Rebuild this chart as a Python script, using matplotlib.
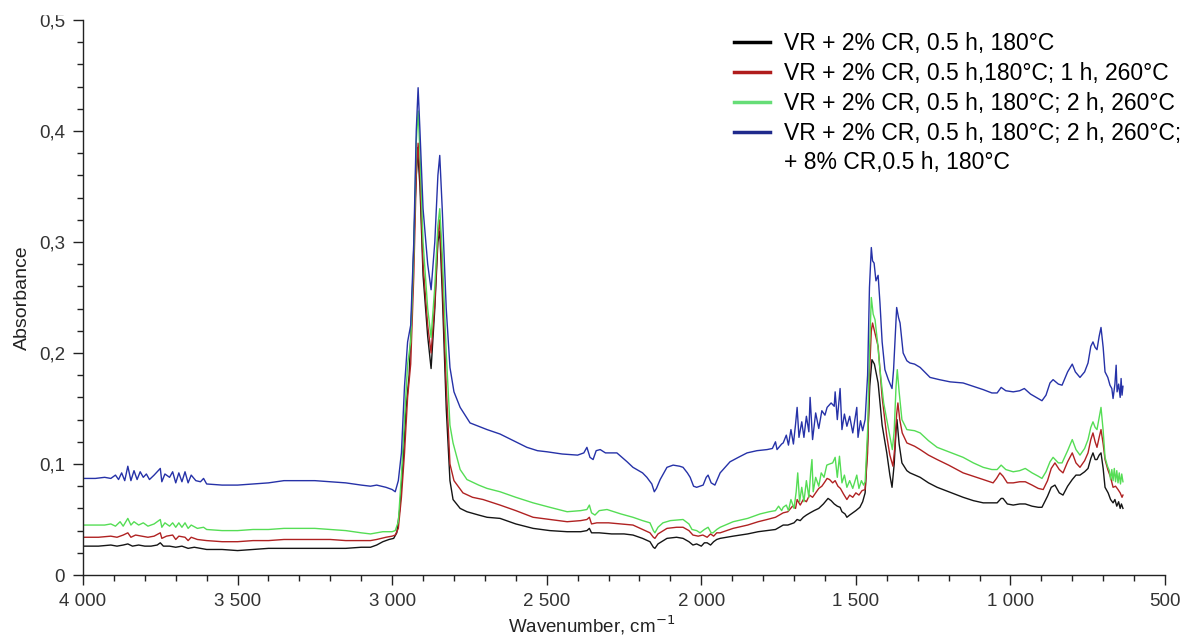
import matplotlib
matplotlib.use("Agg")
import matplotlib.pyplot as plt
from matplotlib.lines import Line2D
from matplotlib.patches import Rectangle
from matplotlib.ticker import MultipleLocator, FuncFormatter

# ---- data ----
labels = [
    "VR + 2% CR, 0.5 h, 180°C",
    "VR + 2% CR, 0.5 h,180°C; 1 h, 260°C",
    "VR + 2% CR, 0.5 h, 180°C; 2 h, 260°C",
    "VR + 2% CR, 0.5 h, 180°C; 2 h, 260°C;",
]
label_extra = "+ 8% CR,0.5 h, 180°C"

wn_black = [4000, 3950, 3910, 3890, 3870, 3855, 3840, 3820, 3800, 3780, 3760, 3750, 3740, 3720, 3700,
            3680, 3660, 3640, 3600, 3550, 3500, 3450, 3400, 3350, 3300, 3250, 3200, 3150, 3100, 3070,
            3050, 3030, 3010, 2995, 2985, 2975, 2965, 2955, 2945, 2935, 2925, 2918, 2910, 2900, 2885,
            2874, 2862, 2852, 2846, 2838, 2825, 2813, 2803, 2780, 2758, 2720, 2693, 2651, 2600, 2544,
            2490, 2434, 2390, 2370, 2362, 2355, 2330, 2290, 2250, 2221, 2190, 2166, 2155, 2150, 2140,
            2111, 2080, 2059, 2040, 2027, 2015, 2000, 1990, 1981, 1970, 1960, 1950, 1939, 1897, 1850,
            1816, 1787, 1760, 1735, 1720, 1700, 1690, 1680, 1670, 1660, 1648, 1635, 1620, 1605, 1590,
            1580, 1570, 1560, 1551, 1545, 1535, 1529, 1520, 1510, 1500, 1487, 1478, 1470, 1462, 1455,
            1448, 1440, 1428, 1415, 1400, 1390, 1383, 1376, 1370, 1367, 1360, 1351, 1335, 1325, 1292,
            1265, 1237, 1200, 1153, 1120, 1088, 1060, 1043, 1030, 1024, 1010, 991, 970, 952, 930,
            910, 898, 880, 868, 856, 842, 830, 815, 800, 788, 775, 760, 749, 740, 733,
            726, 720, 713, 707, 700, 694, 684, 676, 668, 662, 656, 650, 645, 641, 636]
ab_black = [0.026, 0.026, 0.027, 0.026, 0.027, 0.028, 0.026, 0.027, 0.026, 0.026, 0.027, 0.029, 0.026, 0.026, 0.025,
            0.026, 0.024, 0.025, 0.023, 0.023, 0.022, 0.023, 0.024, 0.024, 0.024, 0.024, 0.024, 0.024, 0.025, 0.025,
            0.027, 0.030, 0.032, 0.033, 0.038, 0.060, 0.100, 0.150, 0.180, 0.250, 0.340, 0.385, 0.350, 0.270, 0.215,
            0.186, 0.240, 0.300, 0.310, 0.255, 0.150, 0.085, 0.068, 0.060, 0.057, 0.054, 0.052, 0.051, 0.046, 0.042,
            0.040, 0.039, 0.039, 0.040, 0.042, 0.038, 0.038, 0.037, 0.037, 0.036, 0.033, 0.030, 0.025, 0.024, 0.028,
            0.033, 0.034, 0.033, 0.030, 0.027, 0.028, 0.026, 0.029, 0.029, 0.027, 0.030, 0.032, 0.033, 0.035, 0.037,
            0.039, 0.040, 0.041, 0.045, 0.045, 0.047, 0.050, 0.049, 0.052, 0.054, 0.056, 0.058, 0.060, 0.064, 0.069,
            0.067, 0.064, 0.062, 0.061, 0.057, 0.055, 0.052, 0.054, 0.056, 0.058, 0.061, 0.066, 0.074, 0.120, 0.170,
            0.194, 0.190, 0.173, 0.135, 0.110, 0.090, 0.079, 0.100, 0.130, 0.140, 0.118, 0.101, 0.094, 0.092, 0.088,
            0.083, 0.079, 0.075, 0.070, 0.067, 0.065, 0.065, 0.065, 0.069, 0.069, 0.064, 0.063, 0.064, 0.064, 0.062,
            0.061, 0.061, 0.071, 0.079, 0.081, 0.074, 0.072, 0.080, 0.086, 0.090, 0.090, 0.093, 0.096, 0.105, 0.110,
            0.104, 0.104, 0.108, 0.110, 0.096, 0.079, 0.074, 0.068, 0.065, 0.068, 0.062, 0.066, 0.060, 0.064, 0.060]

wn_red = [4000, 3950, 3910, 3890, 3870, 3855, 3845, 3830, 3810, 3790, 3770, 3750, 3745, 3730, 3710,
          3700, 3690, 3670, 3660, 3650, 3630, 3600, 3550, 3500, 3450, 3400, 3350, 3300, 3250, 3200,
          3150, 3100, 3070, 3050, 3020, 3000, 2990, 2980, 2970, 2960, 2950, 2940, 2930, 2922, 2916,
          2910, 2900, 2885, 2874, 2862, 2852, 2846, 2838, 2825, 2813, 2800, 2771, 2740, 2706, 2651,
          2600, 2544, 2490, 2434, 2390, 2370, 2362, 2355, 2338, 2300, 2260, 2221, 2190, 2166, 2155,
          2150, 2140, 2111, 2080, 2059, 2040, 2027, 2010, 1995, 1981, 1970, 1960, 1950, 1939, 1897,
          1850, 1816, 1787, 1760, 1735, 1720, 1705, 1695, 1690, 1680, 1670, 1660, 1650, 1640, 1630,
          1620, 1610, 1600, 1593, 1585, 1575, 1567, 1558, 1550, 1540, 1529, 1520, 1510, 1500, 1490,
          1480, 1470, 1462, 1456, 1450, 1446, 1440, 1428, 1415, 1400, 1390, 1380, 1374, 1368, 1364,
          1358, 1350, 1335, 1310, 1292, 1265, 1237, 1200, 1153, 1120, 1088, 1056, 1045, 1034, 1024,
          1010, 991, 970, 952, 930, 910, 894, 880, 868, 856, 842, 830, 815, 800, 788,
          775, 760, 749, 740, 733, 726, 720, 713, 707, 700, 694, 685, 676, 668, 660,
          652, 645, 639, 636]
ab_red = [0.034, 0.034, 0.035, 0.034, 0.036, 0.038, 0.034, 0.036, 0.035, 0.034, 0.035, 0.038, 0.033, 0.035, 0.036,
          0.032, 0.035, 0.034, 0.031, 0.034, 0.032, 0.031, 0.030, 0.030, 0.031, 0.031, 0.032, 0.032, 0.032, 0.032,
          0.031, 0.031, 0.031, 0.032, 0.034, 0.035, 0.036, 0.042, 0.070, 0.110, 0.160, 0.190, 0.270, 0.360, 0.389,
          0.360, 0.280, 0.225, 0.200, 0.245, 0.305, 0.320, 0.270, 0.170, 0.100, 0.085, 0.074, 0.070, 0.068, 0.063,
          0.058, 0.052, 0.050, 0.048, 0.049, 0.050, 0.052, 0.046, 0.047, 0.047, 0.046, 0.045, 0.041, 0.038, 0.034,
          0.033, 0.037, 0.042, 0.043, 0.043, 0.040, 0.036, 0.035, 0.036, 0.034, 0.037, 0.035, 0.038, 0.038, 0.042,
          0.045, 0.048, 0.050, 0.052, 0.056, 0.057, 0.062, 0.060, 0.068, 0.063, 0.068, 0.066, 0.072, 0.070, 0.074,
          0.078, 0.080, 0.084, 0.087, 0.086, 0.083, 0.085, 0.080, 0.078, 0.073, 0.068, 0.072, 0.070, 0.074, 0.072,
          0.076, 0.077, 0.110, 0.180, 0.220, 0.227, 0.220, 0.206, 0.160, 0.125, 0.108, 0.098, 0.115, 0.145, 0.155,
          0.140, 0.128, 0.119, 0.116, 0.113, 0.108, 0.104, 0.099, 0.092, 0.089, 0.086, 0.083, 0.087, 0.092, 0.089,
          0.083, 0.083, 0.084, 0.084, 0.081, 0.078, 0.077, 0.085, 0.096, 0.101, 0.095, 0.092, 0.102, 0.110, 0.101,
          0.097, 0.103, 0.110, 0.122, 0.128, 0.120, 0.115, 0.124, 0.131, 0.118, 0.104, 0.095, 0.088, 0.079, 0.080,
          0.077, 0.074, 0.070, 0.072]

wn_green = [4000, 3960, 3930, 3910, 3895, 3880, 3870, 3855, 3845, 3835, 3820, 3805, 3790, 3770, 3750,
            3745, 3735, 3720, 3710, 3700, 3690, 3680, 3670, 3660, 3650, 3630, 3610, 3600, 3550, 3500,
            3450, 3400, 3350, 3300, 3250, 3200, 3150, 3100, 3070, 3050, 3030, 3000, 2990, 2980, 2970,
            2960, 2950, 2940, 2930, 2922, 2916, 2910, 2900, 2885, 2874, 2862, 2852, 2846, 2838, 2825,
            2813, 2803, 2780, 2758, 2720, 2693, 2651, 2600, 2544, 2490, 2434, 2390, 2370, 2362, 2355,
            2344, 2330, 2305, 2260, 2221, 2190, 2166, 2155, 2150, 2140, 2124, 2100, 2059, 2040, 2030,
            2015, 2004, 1990, 1978, 1968, 1962, 1950, 1939, 1897, 1850, 1810, 1780, 1760, 1750, 1740,
            1735, 1725, 1718, 1710, 1700, 1693, 1688, 1682, 1675, 1668, 1660, 1652, 1646, 1642, 1638,
            1630, 1620, 1612, 1603, 1594, 1585, 1575, 1567, 1560, 1553, 1545, 1537, 1529, 1520, 1510,
            1500, 1497, 1490, 1482, 1475, 1470, 1462, 1456, 1450, 1444, 1438, 1430, 1422, 1410, 1400,
            1390, 1382, 1376, 1370, 1366, 1360, 1351, 1335, 1310, 1292, 1265, 1237, 1200, 1153, 1120,
            1088, 1060, 1043, 1030, 1015, 991, 970, 952, 930, 910, 898, 885, 872, 862, 845,
            833, 815, 800, 788, 775, 760, 749, 740, 733, 726, 720, 713, 707, 700, 694,
            686, 680, 676, 672, 668, 664, 660, 656, 652, 648, 644, 640, 636]
ab_green = [0.045, 0.045, 0.045, 0.046, 0.044, 0.048, 0.044, 0.051, 0.045, 0.048, 0.045, 0.047, 0.044, 0.046, 0.050,
            0.043, 0.047, 0.044, 0.047, 0.043, 0.047, 0.043, 0.047, 0.042, 0.045, 0.042, 0.043, 0.041, 0.040, 0.040,
            0.041, 0.041, 0.042, 0.042, 0.042, 0.041, 0.040, 0.038, 0.037, 0.038, 0.039, 0.039, 0.040, 0.048, 0.090,
            0.140, 0.190, 0.210, 0.290, 0.390, 0.418, 0.380, 0.300, 0.240, 0.214, 0.260, 0.315, 0.330, 0.290, 0.200,
            0.135, 0.119, 0.095, 0.086, 0.081, 0.078, 0.075, 0.070, 0.065, 0.061, 0.057, 0.058, 0.059, 0.063, 0.056,
            0.054, 0.058, 0.059, 0.055, 0.052, 0.049, 0.047, 0.040, 0.038, 0.043, 0.047, 0.049, 0.050, 0.046, 0.041,
            0.040, 0.038, 0.041, 0.043, 0.038, 0.038, 0.041, 0.043, 0.048, 0.051, 0.055, 0.057, 0.058, 0.062, 0.058,
            0.061, 0.063, 0.058, 0.068, 0.060, 0.075, 0.092, 0.066, 0.079, 0.066, 0.085, 0.070, 0.093, 0.104, 0.075,
            0.088, 0.080, 0.092, 0.088, 0.099, 0.100, 0.101, 0.106, 0.088, 0.107, 0.083, 0.090, 0.079, 0.085, 0.078,
            0.087, 0.090, 0.078, 0.085, 0.081, 0.084, 0.130, 0.200, 0.250, 0.235, 0.230, 0.210, 0.185, 0.155, 0.140,
            0.125, 0.113, 0.130, 0.170, 0.185, 0.165, 0.140, 0.131, 0.130, 0.128, 0.121, 0.115, 0.111, 0.106, 0.101,
            0.097, 0.095, 0.095, 0.099, 0.095, 0.093, 0.094, 0.096, 0.092, 0.089, 0.087, 0.093, 0.102, 0.106, 0.101,
            0.101, 0.112, 0.122, 0.113, 0.108, 0.114, 0.122, 0.133, 0.138, 0.133, 0.131, 0.142, 0.151, 0.130, 0.106,
            0.098, 0.094, 0.086, 0.095, 0.085, 0.096, 0.084, 0.094, 0.083, 0.092, 0.082, 0.091, 0.084]

wn_blue = [4000, 3960, 3930, 3910, 3895, 3885, 3875, 3865, 3855, 3845, 3835, 3825, 3815, 3805, 3795,
           3785, 3770, 3750, 3745, 3735, 3720, 3710, 3700, 3690, 3680, 3670, 3660, 3650, 3635, 3620,
           3610, 3600, 3550, 3500, 3450, 3400, 3350, 3300, 3250, 3200, 3150, 3100, 3070, 3050, 3020,
           3000, 2990, 2980, 2970, 2960, 2950, 2940, 2930, 2922, 2916, 2910, 2900, 2885, 2874, 2862,
           2852, 2846, 2838, 2825, 2813, 2800, 2780, 2748, 2720, 2693, 2651, 2600, 2564, 2530, 2499,
           2450, 2400, 2380, 2370, 2360, 2350, 2340, 2327, 2310, 2273, 2240, 2221, 2190, 2176, 2160,
           2152, 2145, 2133, 2111, 2091, 2070, 2059, 2045, 2036, 2025, 2015, 1994, 1984, 1978, 1968,
           1956, 1939, 1907, 1880, 1852, 1820, 1787, 1770, 1760, 1755, 1740, 1735, 1725, 1718, 1710,
           1702, 1695, 1690, 1684, 1675, 1668, 1660, 1652, 1648, 1640, 1630, 1620, 1610, 1600, 1593,
           1580, 1570, 1567, 1560, 1551, 1545, 1537, 1529, 1520, 1510, 1500, 1497, 1493, 1485, 1478,
           1470, 1462, 1456, 1450, 1446, 1441, 1435, 1428, 1422, 1415, 1406, 1395, 1383, 1378, 1373,
           1368, 1362, 1357, 1347, 1335, 1325, 1310, 1292, 1260, 1230, 1195, 1153, 1120, 1088, 1060,
           1043, 1030, 1015, 991, 970, 955, 935, 910, 898, 885, 872, 862, 845, 833, 815,
           800, 790, 775, 760, 749, 740, 733, 726, 720, 713, 707, 700, 694, 685, 678,
           672, 668, 662, 658, 655, 650, 645, 642, 639, 636]
ab_blue = [0.087, 0.087, 0.088, 0.087, 0.090, 0.086, 0.092, 0.085, 0.098, 0.085, 0.094, 0.086, 0.093, 0.088, 0.091,
           0.086, 0.090, 0.096, 0.084, 0.091, 0.088, 0.093, 0.083, 0.092, 0.084, 0.093, 0.083, 0.090, 0.085, 0.084,
           0.087, 0.082, 0.081, 0.081, 0.082, 0.083, 0.085, 0.085, 0.085, 0.084, 0.083, 0.081, 0.080, 0.081, 0.079,
           0.077, 0.075, 0.085, 0.110, 0.170, 0.210, 0.225, 0.300, 0.400, 0.439, 0.400, 0.330, 0.280, 0.257, 0.300,
           0.360, 0.378, 0.330, 0.240, 0.187, 0.165, 0.151, 0.137, 0.134, 0.131, 0.127, 0.120, 0.115, 0.112, 0.111,
           0.109, 0.108, 0.110, 0.115, 0.106, 0.104, 0.112, 0.113, 0.110, 0.110, 0.102, 0.097, 0.092, 0.088, 0.082,
           0.075, 0.078, 0.086, 0.097, 0.099, 0.098, 0.097, 0.092, 0.088, 0.080, 0.079, 0.081, 0.088, 0.090, 0.083,
           0.081, 0.092, 0.102, 0.106, 0.110, 0.112, 0.113, 0.114, 0.120, 0.113, 0.118, 0.119, 0.126, 0.117, 0.131,
           0.118, 0.136, 0.151, 0.124, 0.138, 0.124, 0.143, 0.129, 0.160, 0.122, 0.146, 0.132, 0.148, 0.144, 0.151,
           0.155, 0.152, 0.165, 0.140, 0.168, 0.131, 0.145, 0.134, 0.143, 0.128, 0.146, 0.151, 0.124, 0.139, 0.130,
           0.140, 0.180, 0.259, 0.295, 0.283, 0.281, 0.265, 0.270, 0.245, 0.210, 0.185, 0.176, 0.168, 0.185, 0.214,
           0.241, 0.232, 0.227, 0.200, 0.193, 0.191, 0.190, 0.187, 0.178, 0.176, 0.174, 0.173, 0.170, 0.167, 0.164,
           0.164, 0.169, 0.166, 0.165, 0.166, 0.168, 0.163, 0.159, 0.157, 0.162, 0.173, 0.176, 0.172, 0.171, 0.183,
           0.190, 0.183, 0.178, 0.183, 0.191, 0.206, 0.210, 0.205, 0.203, 0.215, 0.223, 0.205, 0.183, 0.178, 0.171,
           0.168, 0.159, 0.172, 0.189, 0.165, 0.172, 0.160, 0.177, 0.162, 0.170]

colors = ["#151515", "#b02222", "#55dd55", "#2632a8"]
legend_colors = ["#000000", "#b01c1c", "#66dd77", "#1f2a8c"]

plt.rcParams["font.family"] = ["Liberation Sans", "DejaVu Sans"]

fig = plt.figure(figsize=(11.93, 6.41), dpi=100)
ax = fig.add_axes([83 / 1193, 66 / 641, 1082 / 1193, 555 / 641])

series = [(wn_black, ab_black), (wn_red, ab_red), (wn_green, ab_green), (wn_blue, ab_blue)]
for (wn, ab), c in zip(series, colors):
    ax.plot(wn, ab, color=c, lw=1.0)

ax.set_xlim(4000, 500)
ax.set_ylim(0, 0.5)

ax.spines["top"].set_visible(False)
ax.spines["right"].set_visible(False)
for s in ("left", "bottom"):
    ax.spines[s].set_color("#222222")
    ax.spines[s].set_linewidth(1.0)

ax.xaxis.set_major_locator(MultipleLocator(500))
ax.xaxis.set_minor_locator(MultipleLocator(100))
ax.yaxis.set_major_locator(MultipleLocator(0.1))
ax.yaxis.set_minor_locator(MultipleLocator(0.02))

ax.xaxis.set_major_formatter(FuncFormatter(lambda v, p: f"{int(round(v)):,}".replace(",", " ")))
ax.yaxis.set_major_formatter(FuncFormatter(lambda v, p: "0" if abs(v) < 1e-9 else f"{v:.1f}".replace(".", ",")))

ax.tick_params(which="major", length=7, width=1, color="#222222", labelsize=13.5,
               labelcolor="#333333", pad=6)
ax.tick_params(which="minor", length=4.5, width=1, color="#222222")

ax.set_ylabel("Absorbance", fontsize=14, color="#222222")
ax.yaxis.set_label_coords(-0.048, 0.5)
ax.set_xlabel("Wavenumber, cm$^{-1}$", fontsize=13.5, color="#222222")
ax.xaxis.set_label_coords(0.47, -0.07)

handles = [Line2D([], [], color=c, lw=2.5) for c in legend_colors]
handles.append(Line2D([], [], color="none"))
ax.legend(handles, labels + [label_extra], loc="upper left",
          bbox_to_anchor=(734 / 1193, 1 - 32 / 641), bbox_transform=fig.transFigure,
          frameon=False, fontsize=16.5, handlelength=1.55, handletextpad=0.62,
          labelspacing=0.30, borderpad=0, borderaxespad=0)

# the top of the "0,5" label is cut off in the original picture
fig.patches.append(Rectangle((0, 1 - 14 / 641), 80 / 1193, 14 / 641,
                             transform=fig.transFigure, color="white", zorder=10))

plt.savefig("out.png", dpi=100)
